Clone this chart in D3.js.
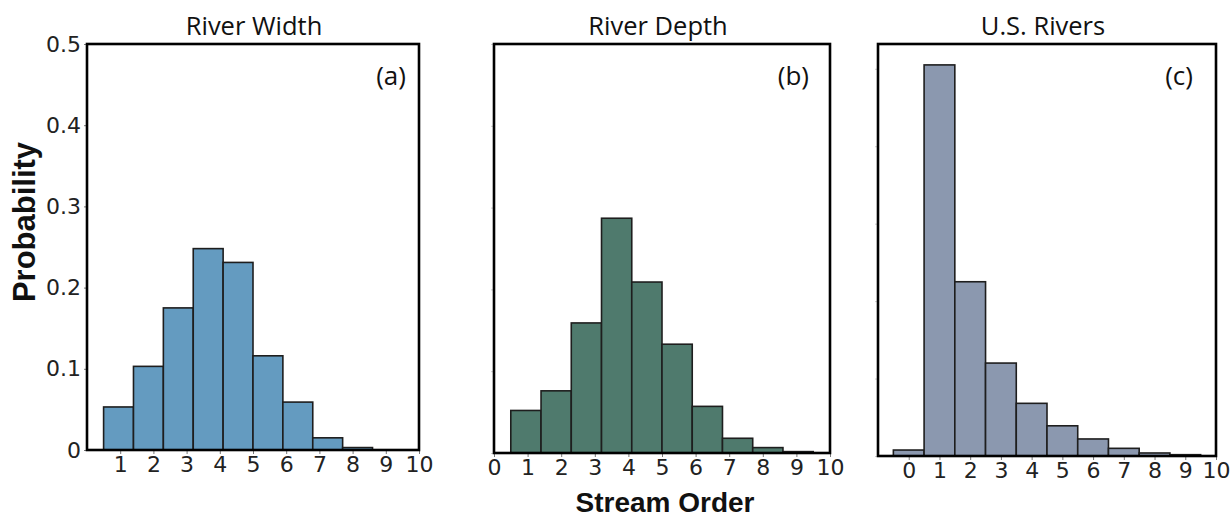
<!DOCTYPE html>
<html>
<head>
<meta charset="utf-8">
<script src="https://cdn.jsdelivr.net/npm/d3@7"></script>
<style>
  html, body { margin: 0; padding: 0; background: #fff; }
  svg { display: block; }
  .tick text { font-family: "DejaVu Sans", sans-serif; fill: #222; }
</style>
</head>
<body>
<svg id="chart" width="1231" height="520"></svg>
<script>
// ---- data ----
const panelTitles = ["River Width", "River Depth", "U.S. Rivers"];
const panelLabels = ["(a)", "(b)", "(c)"];
const binEdgesAB = [0.5, 1.4, 2.3, 3.2, 4.1, 5.0, 5.9, 6.8, 7.7, 8.6, 9.5];
const binEdgesC = [-0.5, 0.5, 1.5, 2.5, 3.5, 4.5, 5.5, 6.5, 7.5, 8.5, 9.5];
const riverWidth = [0.053, 0.103, 0.175, 0.248, 0.231, 0.116, 0.059, 0.015, 0.003, 0.0];
const riverDepth = [0.052, 0.076, 0.159, 0.287, 0.209, 0.133, 0.057, 0.018, 0.0066, 0.0017];
const usRivers = [0.0077, 0.505, 0.225, 0.120, 0.068, 0.039, 0.022, 0.0099, 0.0039, 0.0017];
const xTicksA = [1, 2, 3, 4, 5, 6, 7, 8, 9, 10];
const xTicksB = [0, 1, 2, 3, 4, 5, 6, 7, 8, 9, 10];
const xTicksC = [0, 1, 2, 3, 4, 5, 6, 7, 8, 9, 10];
const yTicks = [0, 0.1, 0.2, 0.3, 0.4, 0.5];
const yTickLabels = ["0", "0.1", "0.2", "0.3", "0.4", "0.5"];
const xDomains = [[0, 10], [0, 10], [-1, 10]];
const yMax = [0.5, 0.5, 0.532];
const yLabel = "Probability";
const xLabel = "Stream Order";

// ---- layout / style ----
const panels = [
  { left: 87, right: 419, top: 44, bottom: 450, fill: "#649bc0", values: riverWidth, edges: binEdgesAB, xTicks: xTicksA, yLabels: true, titleDx: 1, labelInset: 13 },
  { left: 494, right: 830, top: 44, bottom: 453, fill: "#4f7a6d", values: riverDepth, edges: binEdgesAB, xTicks: xTicksB, yLabels: false, titleDx: -4, labelInset: 21 },
  { left: 878, right: 1216, top: 44, bottom: 456, fill: "#8b98af", values: usRivers, edges: binEdgesC, xTicks: xTicksC, yLabels: false, titleDx: -4, labelInset: 23 }
];

const svg = d3.select("#chart");

panels.forEach((p, i) => {
  const x = d3.scaleLinear().domain(xDomains[i]).range([p.left, p.right]);
  const y = d3.scaleLinear().domain([0, yMax[i]]).range([p.bottom, p.top]);
  const g = svg.append("g");

  const bins = p.values.map((v, k) => ({ x0: p.edges[k], x1: p.edges[k + 1], v }));
  g.selectAll("rect.bar").data(bins).join("rect")
    .attr("class", "bar")
    .attr("x", d => x(d.x0))
    .attr("width", d => x(d.x1) - x(d.x0))
    .attr("y", d => y(d.v))
    .attr("height", d => y(0) - y(d.v))
    .attr("fill", p.fill)
    .attr("stroke", "#1e1e1e")
    .attr("stroke-width", 1.6);

  // x axis
  const xa = g.append("g")
    .attr("transform", `translate(0,${p.bottom})`)
    .call(d3.axisBottom(x).tickValues(p.xTicks).tickFormat(d3.format("d")).tickSize(4).tickPadding(2));
  xa.select(".domain").remove();
  xa.selectAll(".tick line").attr("stroke", "#777");
  xa.selectAll(".tick text").attr("font-size", 22);

  // y axis
  const ya = g.append("g")
    .attr("transform", `translate(${p.left},0)`)
    .call(d3.axisLeft(y).tickValues(yTicks).tickSize(3).tickPadding(3)
      .tickFormat((d, k) => p.yLabels ? yTickLabels[k] : ""));
  ya.select(".domain").remove();
  ya.selectAll(".tick line").attr("stroke", p.yLabels ? "#777" : "#ccc");
  ya.selectAll(".tick text").attr("font-size", 22);

  // frame
  g.append("rect")
    .attr("x", p.left).attr("y", p.top)
    .attr("width", p.right - p.left).attr("height", p.bottom - p.top)
    .attr("fill", "none").attr("stroke", "#000").attr("stroke-width", 2.6);

  // title
  g.append("text")
    .attr("x", (p.left + p.right) / 2 + p.titleDx).attr("y", 35)
    .attr("text-anchor", "middle")
    .attr("font-family", "'Open Sans', sans-serif")
    .attr("font-size", 25.5).attr("fill", "#111")
    .text(panelTitles[i]);

  // panel label
  g.append("text")
    .attr("x", p.right - p.labelInset).attr("y", 85)
    .attr("text-anchor", "end")
    .attr("font-family", "'Open Sans', sans-serif")
    .attr("font-size", 26).attr("fill", "#111")
    .text(panelLabels[i]);
});

// axis labels
svg.append("text")
  .attr("transform", "translate(35,222) rotate(-90)")
  .attr("text-anchor", "middle")
  .attr("font-family", "'Liberation Sans', Arial, sans-serif")
  .attr("font-weight", "bold").attr("font-size", 31).attr("fill", "#111")
  .text(yLabel);

svg.append("text")
  .attr("x", 665).attr("y", 512)
  .attr("text-anchor", "middle")
  .attr("font-family", "'Liberation Sans', Arial, sans-serif")
  .attr("font-weight", "bold").attr("font-size", 28).attr("fill", "#111")
  .text(xLabel);
</script>
</body>
</html>
